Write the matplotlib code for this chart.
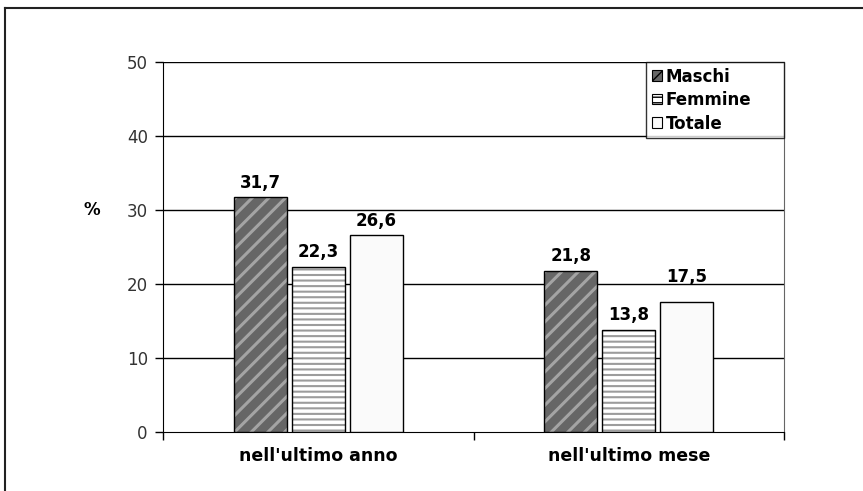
import numpy as np
import matplotlib
matplotlib.use("Agg")
import matplotlib.pyplot as plt
from matplotlib.lines import Line2D
from matplotlib import transforms

categories = ["nell'ultimo anno", "nell'ultimo mese"]
series = ["Maschi", "Femmine", "Totale"]
maschi = [31.7, 21.8]
femmine = [22.3, 13.8]
totale = [26.6, 17.5]
values = [maschi, femmine, totale]
yticks = [0, 10, 20, 30, 40, 50]

fig = plt.figure(figsize=(8.63, 4.91), dpi=100)
ax = fig.add_axes([0.189, 0.1202, 0.7195, 0.7535])

faces = ["#666666", "#ffffff", "#fafafa"]
hatchcols = ["#a4a4a4", "#9c9c9c", "#fafafa"]
hatches = ["//", "---", None]
hatch_lw = [2.2, 1.5, 1.0]
# Excel pushed the "17,5" label up over the gridline
extra_off = {(2, 1): 8}

x = np.arange(len(categories))
w = 0.171
step = 0.187
handles = []
for i, vals in enumerate(values):
    pos = x + (i - 1) * step
    # hatch layer first (hatch uses the edge colour), then the black outline
    with plt.rc_context({"hatch.linewidth": hatch_lw[i]}):
        ax.bar(pos, vals, w, color=faces[i], edgecolor=hatchcols[i], hatch=hatches[i], linewidth=0, zorder=3)
    ax.bar(pos, vals, w, facecolor="none", edgecolor="black", linewidth=1.0, zorder=4)
    for j, (p, v) in enumerate(zip(pos, vals)):
        ax.annotate(f"{v:.1f}".replace(".", ","), (p, v), xytext=(0, 4 + extra_off.get((i, j), 0)),
                    textcoords="offset points", ha="center", va="bottom",
                    fontsize=12, fontweight="bold", zorder=5)
    handles.append(plt.Rectangle((0, 0), 1, 1, facecolor=faces[i], edgecolor="black",
                                 hatch=hatches[i], linewidth=0.8))

ax.set_xlim(-0.5, 1.5)
ax.set_ylim(0, 50)
ax.set_yticks(yticks)
ax.tick_params(axis="y", direction="out", length=6, pad=5, labelsize=12, labelcolor="#333333", width=1)
ax.set_xticks([-0.5, 0.5, 1.5])
ax.set_xticklabels([])
ax.set_xticks(x, minor=True)
ax.set_xticklabels(categories, minor=True, fontsize=12.5, fontweight="bold")
ax.tick_params(axis="x", which="major", direction="out", length=6, width=1)
ax.tick_params(axis="x", which="minor", length=0, pad=11)

for yv in yticks[1:]:
    ax.axhline(yv, color="black", lw=1, zorder=1)
ax.spines["top"].set_visible(False)
ax.spines["right"].set_color("#666666")
ax.spines["left"].set_color("black")
ax.spines["bottom"].set_color("black")

ax.text(92 / 863, 30, "%", transform=transforms.blended_transform_factory(fig.transFigure, ax.transData),
        ha="center", va="center", fontsize=12, fontweight="bold")

leg = ax.legend(handles, series, loc="upper left", bbox_to_anchor=(1 - 0.222, 0.0, 0.222, 1.0),
                mode="expand", fontsize=12, frameon=True, fancybox=False, edgecolor="black",
                borderaxespad=0, handlelength=0.6, handleheight=0.6, handletextpad=0.25,
                labelspacing=0.33, borderpad=0.33)
leg.get_frame().set_linewidth(1.0)
for t in leg.get_texts():
    t.set_fontweight("bold")

# outer frame (top and left only)
fig.add_artist(Line2D([0.006, 1.0], [0.984, 0.984], color="#222222", lw=1.5, transform=fig.transFigure))
fig.add_artist(Line2D([0.006, 0.006], [0.0, 0.984], color="#222222", lw=1.5, transform=fig.transFigure))

fig.savefig("out.png", dpi=100)
